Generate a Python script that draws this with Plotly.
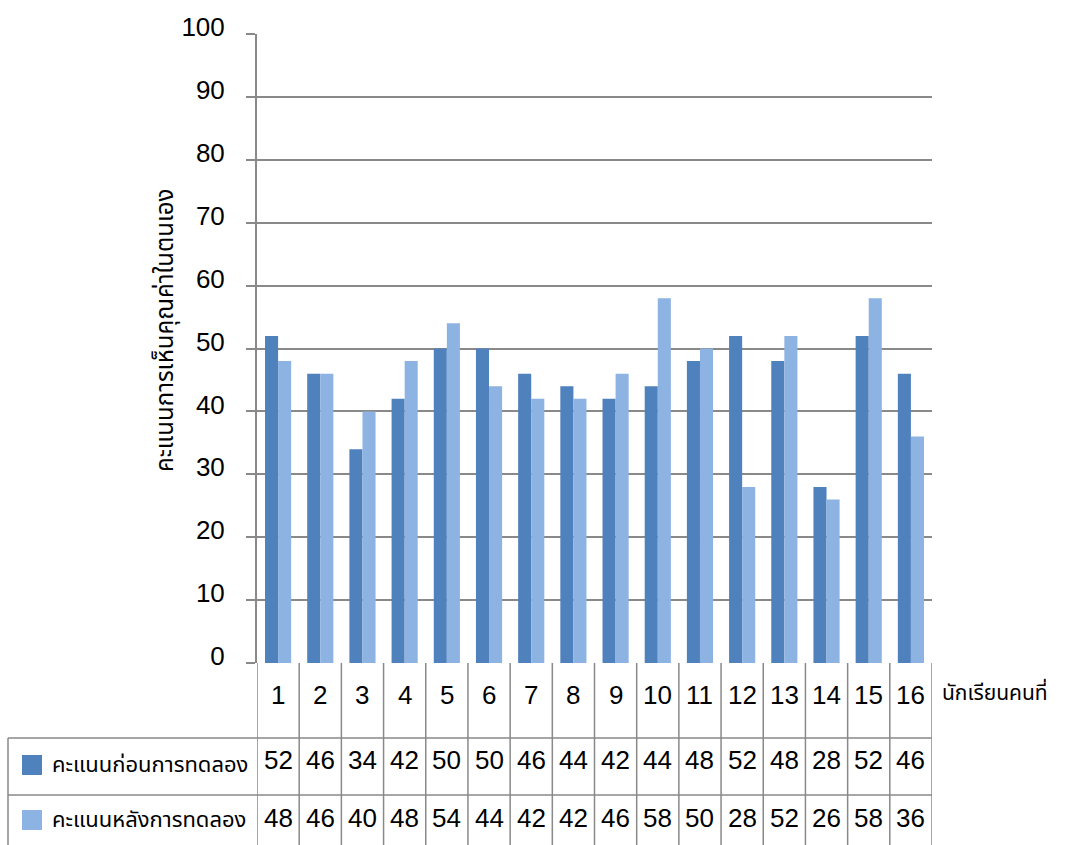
import plotly.graph_objects as go

students = [str(i) for i in range(1, 17)]
before = [52, 46, 34, 42, 50, 50, 46, 44, 42, 44, 48, 52, 48, 28, 52, 46]
after = [48, 46, 40, 48, 54, 44, 42, 42, 46, 58, 50, 28, 52, 26, 58, 36]
series_names = ["คะแนนก่อนการทดลอง", "คะแนนหลังการทดลอง"]
y_title = "คะแนนการเห็นคุณค่าในตนเอง"
x_title = "นักเรียนคนที่"
y_ticks = list(range(0, 101, 10))

W, H = 1066, 845
colors = ["#4F81BD", "#8DB3E2"]
grid = "#898989"
num_font = "Liberation Sans Narrow, Arial Narrow, Liberation Sans, Arial, sans-serif"
thai_font = "Noto Sans Thai, Loma, Garuda, Tlwg Typo, DejaVu Sans, sans-serif"
num_size = 26

px_left, px_right = 257, 932
px_top, px_bottom = 34, 663

def py(p):
    return 1 - p / H

def pxp(p):
    return p / W

xs = list(range(1, len(students) + 1))

fig = go.Figure()
for name, vals, c in zip(series_names, [before, after], colors):
    fig.add_trace(go.Bar(x=xs, y=vals, name=name, marker=dict(color=c, line=dict(width=0))))

shapes = []
annotations = []

# table vertical lines at category boundaries
for k in range(len(students) + 1):
    shapes.append(dict(type="line", xref="x", yref="paper", x0=k + 0.5, x1=k + 0.5,
                       y0=py(663), y1=0, line=dict(color=grid, width=1.5)))
# horizontal table lines
for yy in [738, 795]:
    shapes.append(dict(type="line", xref="paper", yref="paper", x0=pxp(8), x1=pxp(px_right),
                       y0=py(yy), y1=py(yy), line=dict(color=grid, width=1.5)))
shapes.append(dict(type="line", xref="paper", yref="paper", x0=pxp(8), x1=pxp(8),
                   y0=py(738), y1=0, line=dict(color=grid, width=1.5)))

# header numbers and values
for i, s in enumerate(students):
    annotations.append(dict(x=xs[i], y=py(695), xref="x", yref="paper", text=s, showarrow=False,
                            font=dict(family=num_font, size=num_size, color="#000"), yanchor="middle"))
    annotations.append(dict(x=xs[i], y=py(760), xref="x", yref="paper", text=str(before[i]), showarrow=False,
                            font=dict(family=num_font, size=num_size, color="#000"), yanchor="middle"))
    annotations.append(dict(x=xs[i], y=py(818), xref="x", yref="paper", text=str(after[i]), showarrow=False,
                            font=dict(family=num_font, size=num_size, color="#000"), yanchor="middle"))

# legend keys + labels
for name, c, yc in zip(series_names, colors, [765, 820]):
    shapes.append(dict(type="rect", xref="paper", yref="paper", x0=pxp(22), x1=pxp(42),
                       y0=py(yc + 10), y1=py(yc - 10), fillcolor=c, line=dict(width=0)))
    annotations.append(dict(x=pxp(50), y=py(yc), xref="paper", yref="paper", text=name, showarrow=False,
                            xanchor="left", yanchor="middle",
                            font=dict(family=thai_font, size=22, color="#000")))

annotations.append(dict(x=pxp(940), y=py(693), xref="paper", yref="paper", text=x_title, showarrow=False,
                        xanchor="left", yanchor="middle", font=dict(family=thai_font, size=21, color="#000")))
annotations.append(dict(x=pxp(166), y=py(330), xref="paper", yref="paper", text=y_title, showarrow=False,
                        textangle=-90, xanchor="center", yanchor="middle",
                        font=dict(family=thai_font, size=24, color="#000")))

fig.update_layout(
    width=W, height=H, margin=dict(l=0, r=0, t=0, b=0, autoexpand=False),
    paper_bgcolor="white", plot_bgcolor="white",
    barmode="group", bargap=0.38, bargroupgap=0,
    showlegend=False,
    shapes=shapes, annotations=annotations,
    xaxis=dict(domain=[pxp(px_left), pxp(px_right)], range=[0.5, 16.5], showticklabels=False,
               showgrid=False, zeroline=False, showline=False, ticks="", automargin=False),
    yaxis=dict(domain=[py(px_bottom), py(px_top)], range=[0, 100], tickvals=y_ticks,
               showgrid=True, gridcolor=grid, gridwidth=2, zeroline=False,
               showline=True, linecolor=grid, linewidth=2, automargin=False,
               ticks="outside", ticklen=9, tickcolor=grid, tickwidth=2,
               tickfont=dict(family=num_font, size=num_size, color="#000"),
               ticklabelstandoff=16, ticklabelshift=-7),
)

fig.write_html("out.html")
